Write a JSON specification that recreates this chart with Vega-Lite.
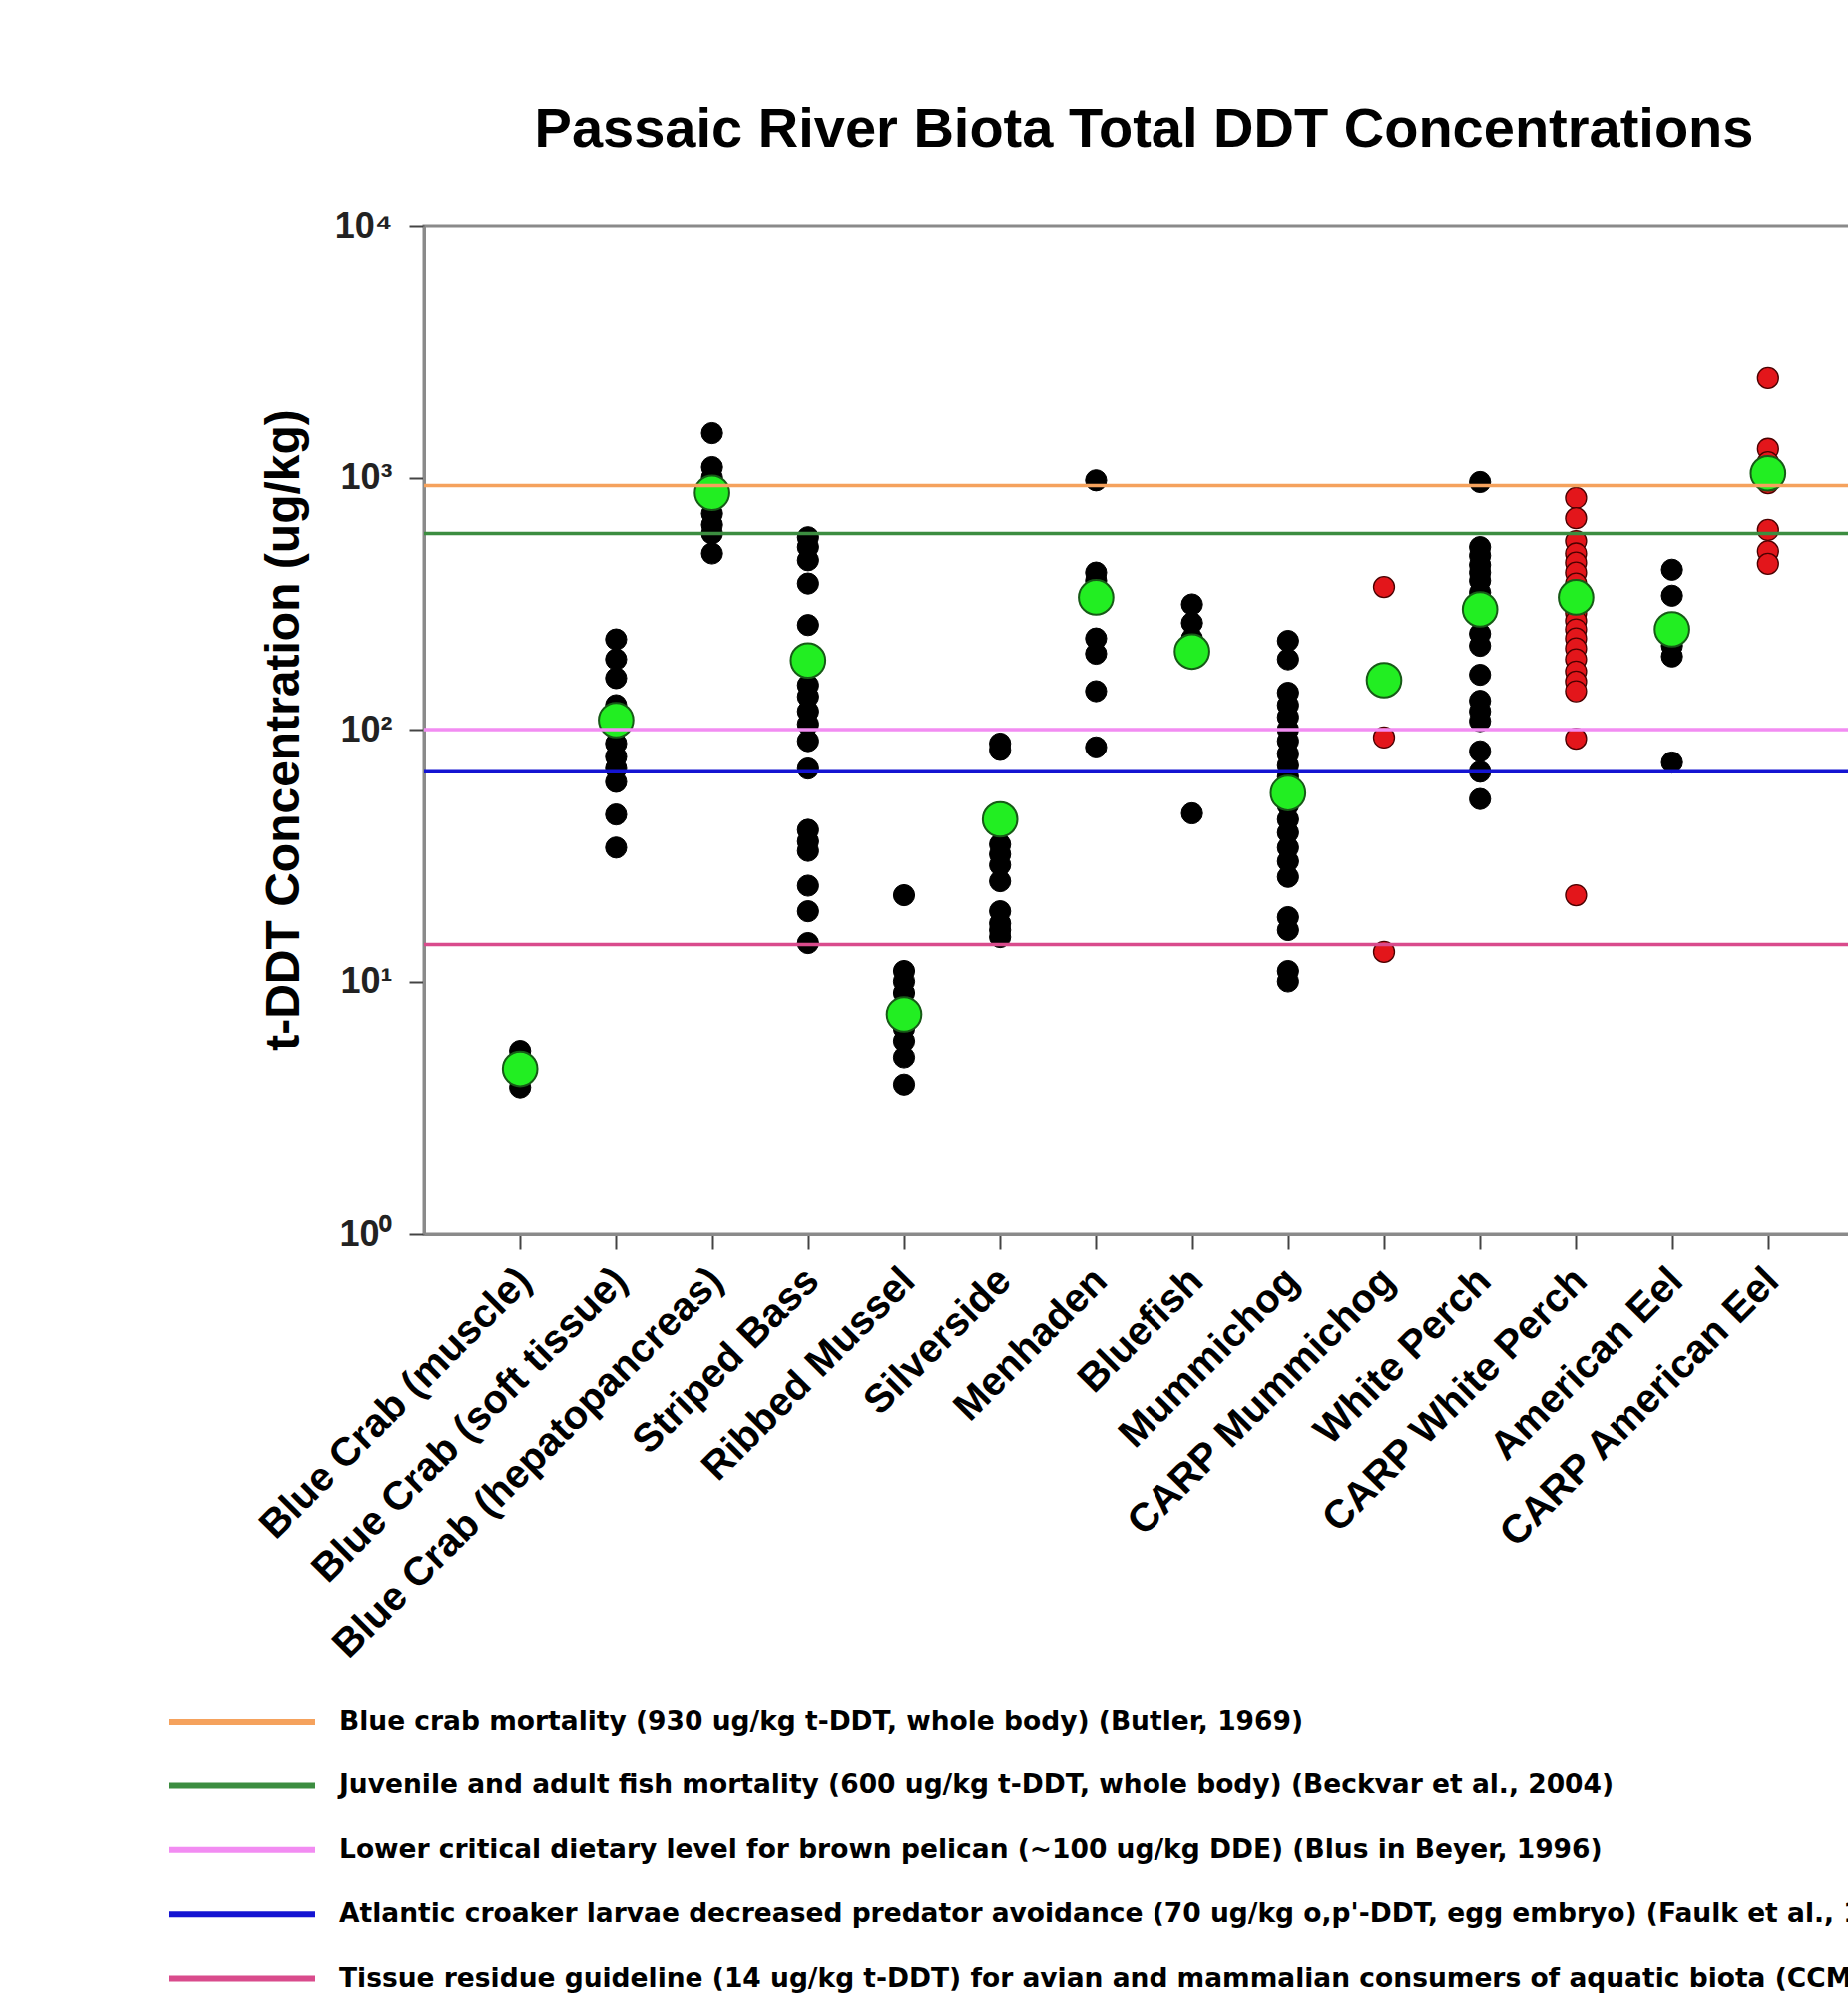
{
  "$schema": "https://vega.github.io/schema/vega-lite/v6.json",
  "width": 1443,
  "height": 1010,
  "padding": {"left": 253, "top": 102, "right": 0, "bottom": 0},
  "background": "white",
  "title": {
    "text": "Passaic River Biota Total DDT Concentrations",
    "font": "Liberation Sans",
    "fontSize": 56,
    "fontWeight": "bold",
    "color": "black",
    "anchor": "middle",
    "frame": "group",
    "offset": 49
  },
  "config": {
    "font": "Liberation Sans",
    "view": {"stroke": "#8a8a8a", "strokeWidth": 3},
    "axis": {"grid": false}
  },
  "data": {
    "values": [
      {"species": "Blue Crab (muscle)", "value": 5.3, "kind": "data"},
      {"species": "Blue Crab (muscle)", "value": 5.0, "kind": "data"},
      {"species": "Blue Crab (muscle)", "value": 4.6, "kind": "data"},
      {"species": "Blue Crab (muscle)", "value": 4.2, "kind": "data"},
      {"species": "Blue Crab (muscle)", "value": 3.8, "kind": "data"},
      {"species": "Blue Crab (soft tissue)", "value": 228, "kind": "data"},
      {"species": "Blue Crab (soft tissue)", "value": 190, "kind": "data"},
      {"species": "Blue Crab (soft tissue)", "value": 160, "kind": "data"},
      {"species": "Blue Crab (soft tissue)", "value": 125, "kind": "data"},
      {"species": "Blue Crab (soft tissue)", "value": 100, "kind": "data"},
      {"species": "Blue Crab (soft tissue)", "value": 88, "kind": "data"},
      {"species": "Blue Crab (soft tissue)", "value": 78, "kind": "data"},
      {"species": "Blue Crab (soft tissue)", "value": 70, "kind": "data"},
      {"species": "Blue Crab (soft tissue)", "value": 62, "kind": "data"},
      {"species": "Blue Crab (soft tissue)", "value": 46, "kind": "data"},
      {"species": "Blue Crab (soft tissue)", "value": 34, "kind": "data"},
      {"species": "Blue Crab (hepatopancreas)", "value": 1500, "kind": "data"},
      {"species": "Blue Crab (hepatopancreas)", "value": 1100, "kind": "data"},
      {"species": "Blue Crab (hepatopancreas)", "value": 1000, "kind": "data"},
      {"species": "Blue Crab (hepatopancreas)", "value": 800, "kind": "data"},
      {"species": "Blue Crab (hepatopancreas)", "value": 720, "kind": "data"},
      {"species": "Blue Crab (hepatopancreas)", "value": 650, "kind": "data"},
      {"species": "Blue Crab (hepatopancreas)", "value": 600, "kind": "data"},
      {"species": "Blue Crab (hepatopancreas)", "value": 500, "kind": "data"},
      {"species": "Striped Bass", "value": 580, "kind": "data"},
      {"species": "Striped Bass", "value": 530, "kind": "data"},
      {"species": "Striped Bass", "value": 470, "kind": "data"},
      {"species": "Striped Bass", "value": 380, "kind": "data"},
      {"species": "Striped Bass", "value": 260, "kind": "data"},
      {"species": "Striped Bass", "value": 150, "kind": "data"},
      {"species": "Striped Bass", "value": 135, "kind": "data"},
      {"species": "Striped Bass", "value": 118, "kind": "data"},
      {"species": "Striped Bass", "value": 105, "kind": "data"},
      {"species": "Striped Bass", "value": 90, "kind": "data"},
      {"species": "Striped Bass", "value": 70, "kind": "data"},
      {"species": "Striped Bass", "value": 40, "kind": "data"},
      {"species": "Striped Bass", "value": 36, "kind": "data"},
      {"species": "Striped Bass", "value": 33, "kind": "data"},
      {"species": "Striped Bass", "value": 24, "kind": "data"},
      {"species": "Striped Bass", "value": 19, "kind": "data"},
      {"species": "Striped Bass", "value": 14.2, "kind": "data"},
      {"species": "Ribbed Mussel", "value": 22, "kind": "data"},
      {"species": "Ribbed Mussel", "value": 11, "kind": "data"},
      {"species": "Ribbed Mussel", "value": 10, "kind": "data"},
      {"species": "Ribbed Mussel", "value": 9, "kind": "data"},
      {"species": "Ribbed Mussel", "value": 6.5, "kind": "data"},
      {"species": "Ribbed Mussel", "value": 5.8, "kind": "data"},
      {"species": "Ribbed Mussel", "value": 5.0, "kind": "data"},
      {"species": "Ribbed Mussel", "value": 3.9, "kind": "data"},
      {"species": "Silverside", "value": 88, "kind": "data"},
      {"species": "Silverside", "value": 83, "kind": "data"},
      {"species": "Silverside", "value": 35, "kind": "data"},
      {"species": "Silverside", "value": 32, "kind": "data"},
      {"species": "Silverside", "value": 29, "kind": "data"},
      {"species": "Silverside", "value": 25, "kind": "data"},
      {"species": "Silverside", "value": 19, "kind": "data"},
      {"species": "Silverside", "value": 17, "kind": "data"},
      {"species": "Silverside", "value": 16, "kind": "data"},
      {"species": "Silverside", "value": 15, "kind": "data"},
      {"species": "Menhaden", "value": 975, "kind": "data"},
      {"species": "Menhaden", "value": 420, "kind": "data"},
      {"species": "Menhaden", "value": 390, "kind": "data"},
      {"species": "Menhaden", "value": 230, "kind": "data"},
      {"species": "Menhaden", "value": 200, "kind": "data"},
      {"species": "Menhaden", "value": 142, "kind": "data"},
      {"species": "Menhaden", "value": 85, "kind": "data"},
      {"species": "Bluefish", "value": 314, "kind": "data"},
      {"species": "Bluefish", "value": 265, "kind": "data"},
      {"species": "Bluefish", "value": 230, "kind": "data"},
      {"species": "Bluefish", "value": 46.5, "kind": "data"},
      {"species": "Mummichog", "value": 225, "kind": "data"},
      {"species": "Mummichog", "value": 190, "kind": "data"},
      {"species": "Mummichog", "value": 140, "kind": "data"},
      {"species": "Mummichog", "value": 125, "kind": "data"},
      {"species": "Mummichog", "value": 112, "kind": "data"},
      {"species": "Mummichog", "value": 100, "kind": "data"},
      {"species": "Mummichog", "value": 90, "kind": "data"},
      {"species": "Mummichog", "value": 80, "kind": "data"},
      {"species": "Mummichog", "value": 72, "kind": "data"},
      {"species": "Mummichog", "value": 65, "kind": "data"},
      {"species": "Mummichog", "value": 50, "kind": "data"},
      {"species": "Mummichog", "value": 44, "kind": "data"},
      {"species": "Mummichog", "value": 39, "kind": "data"},
      {"species": "Mummichog", "value": 34, "kind": "data"},
      {"species": "Mummichog", "value": 30, "kind": "data"},
      {"species": "Mummichog", "value": 26, "kind": "data"},
      {"species": "Mummichog", "value": 18, "kind": "data"},
      {"species": "Mummichog", "value": 16, "kind": "data"},
      {"species": "Mummichog", "value": 11, "kind": "data"},
      {"species": "Mummichog", "value": 10, "kind": "data"},
      {"species": "CARP Mummichog", "value": 368, "kind": "carp"},
      {"species": "CARP Mummichog", "value": 93, "kind": "carp"},
      {"species": "CARP Mummichog", "value": 13.1, "kind": "carp"},
      {"species": "White Perch", "value": 960, "kind": "data"},
      {"species": "White Perch", "value": 530, "kind": "data"},
      {"species": "White Perch", "value": 490, "kind": "data"},
      {"species": "White Perch", "value": 450, "kind": "data"},
      {"species": "White Perch", "value": 420, "kind": "data"},
      {"species": "White Perch", "value": 390, "kind": "data"},
      {"species": "White Perch", "value": 350, "kind": "data"},
      {"species": "White Perch", "value": 240, "kind": "data"},
      {"species": "White Perch", "value": 215, "kind": "data"},
      {"species": "White Perch", "value": 165, "kind": "data"},
      {"species": "White Perch", "value": 130, "kind": "data"},
      {"species": "White Perch", "value": 118, "kind": "data"},
      {"species": "White Perch", "value": 108, "kind": "data"},
      {"species": "White Perch", "value": 82, "kind": "data"},
      {"species": "White Perch", "value": 68, "kind": "data"},
      {"species": "White Perch", "value": 53, "kind": "data"},
      {"species": "CARP White Perch", "value": 830, "kind": "carp"},
      {"species": "CARP White Perch", "value": 690, "kind": "carp"},
      {"species": "CARP White Perch", "value": 560, "kind": "carp"},
      {"species": "CARP White Perch", "value": 500, "kind": "carp"},
      {"species": "CARP White Perch", "value": 460, "kind": "carp"},
      {"species": "CARP White Perch", "value": 420, "kind": "carp"},
      {"species": "CARP White Perch", "value": 380, "kind": "carp"},
      {"species": "CARP White Perch", "value": 290, "kind": "carp"},
      {"species": "CARP White Perch", "value": 270, "kind": "carp"},
      {"species": "CARP White Perch", "value": 250, "kind": "carp"},
      {"species": "CARP White Perch", "value": 230, "kind": "carp"},
      {"species": "CARP White Perch", "value": 210, "kind": "carp"},
      {"species": "CARP White Perch", "value": 190, "kind": "carp"},
      {"species": "CARP White Perch", "value": 170, "kind": "carp"},
      {"species": "CARP White Perch", "value": 155, "kind": "carp"},
      {"species": "CARP White Perch", "value": 142, "kind": "carp"},
      {"species": "CARP White Perch", "value": 92, "kind": "carp"},
      {"species": "CARP White Perch", "value": 22, "kind": "carp"},
      {"species": "American Eel", "value": 431, "kind": "data"},
      {"species": "American Eel", "value": 340, "kind": "data"},
      {"species": "American Eel", "value": 215, "kind": "data"},
      {"species": "American Eel", "value": 195, "kind": "data"},
      {"species": "American Eel", "value": 74, "kind": "data"},
      {"species": "CARP American Eel", "value": 2480, "kind": "carp"},
      {"species": "CARP American Eel", "value": 1300, "kind": "carp"},
      {"species": "CARP American Eel", "value": 1150, "kind": "carp"},
      {"species": "CARP American Eel", "value": 950, "kind": "carp"},
      {"species": "CARP American Eel", "value": 620, "kind": "carp"},
      {"species": "CARP American Eel", "value": 510, "kind": "carp"},
      {"species": "CARP American Eel", "value": 455, "kind": "carp"},
      {"species": "Blue Crab (muscle)", "value": 4.5, "kind": "mean"},
      {"species": "Blue Crab (soft tissue)", "value": 109, "kind": "mean"},
      {"species": "Blue Crab (hepatopancreas)", "value": 870, "kind": "mean"},
      {"species": "Striped Bass", "value": 188, "kind": "mean"},
      {"species": "Ribbed Mussel", "value": 7.4, "kind": "mean"},
      {"species": "Silverside", "value": 44, "kind": "mean"},
      {"species": "Menhaden", "value": 335, "kind": "mean"},
      {"species": "Bluefish", "value": 204, "kind": "mean"},
      {"species": "Mummichog", "value": 56, "kind": "mean"},
      {"species": "CARP Mummichog", "value": 157, "kind": "mean"},
      {"species": "White Perch", "value": 300, "kind": "mean"},
      {"species": "CARP White Perch", "value": 335, "kind": "mean"},
      {"species": "American Eel", "value": 250, "kind": "mean"},
      {"species": "CARP American Eel", "value": 1040, "kind": "mean"}
    ]
  },
  "encoding": {
    "y": {
      "field": "value",
      "type": "quantitative",
      "scale": {"type": "log", "domain": [1, 10000], "nice": false},
      "axis": {
        "title": "t-DDT Concentration (ug/kg)",
        "titleFont": "Liberation Sans",
        "titleFontSize": 48,
        "titleFontWeight": "bold",
        "titleColor": "black",
        "titlePadding": 26,
        "values": [1, 10, 100, 1000, 10000],
        "labelExpr": "datum.value == 1 ? '10⁰' : datum.value == 10 ? '10¹' : datum.value == 100 ? '10²' : datum.value == 1000 ? '10³' : '10⁴'",
        "labelFontSize": 36,
        "labelFontWeight": "bold",
        "labelColor": "#222222",
        "labelPadding": 17,
        "tickSize": 15,
        "tickWidth": 2,
        "tickColor": "#444444",
        "domainColor": "#8a8a8a",
        "domainWidth": 3,
        "grid": false
      }
    }
  },
  "layer": [
    {
      "transform": [{"filter": "datum.kind == 'data'"}],
      "mark": {"type": "circle", "fill": "black", "stroke": "black", "strokeWidth": 1, "size": 450, "opacity": 1},
      "encoding": {
        "x": {
          "field": "species",
          "type": "nominal",
          "scale": {
            "type": "point",
            "padding": 1,
            "domain": ["Blue Crab (muscle)", "Blue Crab (soft tissue)", "Blue Crab (hepatopancreas)", "Striped Bass", "Ribbed Mussel", "Silverside", "Menhaden", "Bluefish", "Mummichog", "CARP Mummichog", "White Perch", "CARP White Perch", "American Eel", "CARP American Eel"]
          },
          "axis": {
            "title": null,
            "labelAngle": -45,
            "labelFontSize": 40,
            "labelFontWeight": "bold",
            "labelColor": "black",
            "labelPadding": 12,
            "labelOffset": -10,
            "labelLimit": 1000,
            "tickSize": 15,
            "tickWidth": 2,
            "tickColor": "#444444",
            "domainColor": "#8a8a8a",
            "domainWidth": 3
          }
        }
      }
    },
    {
      "transform": [{"filter": "datum.kind == 'carp'"}],
      "mark": {"type": "circle", "fill": "#E3161B", "stroke": "#4a0000", "strokeWidth": 1.3, "size": 440, "opacity": 1},
      "encoding": {"x": {"field": "species", "type": "nominal"}}
    },
    {
      "transform": [{"filter": "datum.kind == 'mean'"}],
      "mark": {"type": "circle", "fill": "#22EE22", "stroke": "#175a17", "strokeWidth": 2, "size": 1200, "opacity": 1},
      "encoding": {"x": {"field": "species", "type": "nominal"}}
    },
    {
      "data": {
        "values": [
          {"label": "Blue crab mortality (930 ug/kg t-DDT, whole body) (Butler, 1969)", "value": 930},
          {"label": "Juvenile and adult fish mortality (600 ug/kg t-DDT, whole body) (Beckvar et al., 2004)", "value": 600},
          {"label": "Lower critical dietary level for brown pelican (~100 ug/kg DDE) (Blus in Beyer, 1996)", "value": 100},
          {"label": "Atlantic croaker larvae decreased predator avoidance (70 ug/kg o,p'-DDT, egg embryo) (Faulk et al., 1999)", "value": 68},
          {"label": "Tissue residue guideline (14 ug/kg t-DDT) for avian and mammalian consumers of aquatic biota (CCME, 1997)", "value": 14}
        ]
      },
      "mark": {"type": "rule", "strokeWidth": 3.5},
      "encoding": {
        "color": {
          "field": "label",
          "type": "nominal",
          "scale": {
            "domain": [
              "Blue crab mortality (930 ug/kg t-DDT, whole body) (Butler, 1969)",
              "Juvenile and adult fish mortality (600 ug/kg t-DDT, whole body) (Beckvar et al., 2004)",
              "Lower critical dietary level for brown pelican (~100 ug/kg DDE) (Blus in Beyer, 1996)",
              "Atlantic croaker larvae decreased predator avoidance (70 ug/kg o,p'-DDT, egg embryo) (Faulk et al., 1999)",
              "Tissue residue guideline (14 ug/kg t-DDT) for avian and mammalian consumers of aquatic biota (CCME, 1997)"
            ],
            "range": ["#F5A25D", "#3C8D40", "#F28CF2", "#1414D2", "#D94B8C"]
          },
          "legend": {
            "orient": "none",
            "legendX": -142,
            "legendY": 1481,
            "title": null,
            "direction": "vertical",
            "symbolType": "M-8.8,0H1",
            "symbolSize": 900,
            "symbolStrokeWidth": 6,
            "labelFont": "DejaVu Sans",
            "labelFontSize": 26.5,
            "labelFontWeight": "bold",
            "labelColor": "black",
            "labelLimit": 3000,
            "labelOffset": 21,
            "rowPadding": 32.4,
            "padding": 0
          }
        }
      }
    }
  ]
}
